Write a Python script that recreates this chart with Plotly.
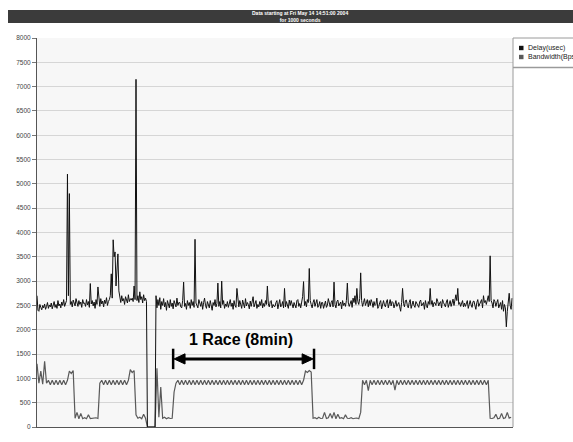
import plotly.graph_objects as go

# ---------------- data ----------------
title_lines = ["Data starting at Fri May 14 14:51:00 2004", "for 1000 seconds"]
series_names = ["Delay(usec)", "Bandwidth(Bps)"]
y_ticks = list(range(0, 8001, 500))

# delay: one sample every 2 s
delay_usec = [
    2700, 2400, 2380, 2520, 2460, 2410, 2500, 2450, 2530, 2420,
    2480, 2560, 2440, 2510, 2470, 2550, 2430, 2500, 2580, 2460,
    2520, 2440, 2600, 2490, 2530, 2450, 2570, 2500, 2620, 2480,
    2540, 2600, 5200, 2700, 4800, 2520, 2580, 2470, 2610, 2530,
    2490, 2640, 2550, 2480, 2600, 2520, 2570, 2460, 2620, 2540,
    2550, 2480, 2620, 2510, 2580, 2460, 2950, 2530, 2600, 2490,
    2570, 2440, 2620, 2520, 2880, 2560, 2480, 2640, 2530, 2590,
    2470, 2610, 2540, 2660, 2500, 2580, 2620, 2700, 3150, 2650,
    3850, 3500, 3600, 2900, 3300, 3560, 2800, 2650, 2560, 2700,
    2590, 2640, 2520, 2680, 2600, 2550, 2720, 2580, 2640, 2610,
    2650, 2580, 2900, 2620, 7150, 2600, 2700, 2560, 2780, 2620,
    2680, 2550, 2720, 2600, 2650, 2580, 0, 0, 0, 0,
    0, 0, 0, 0, 0, 2700, 2450, 2620, 2500, 2660,
    2420, 2580, 2500, 2640, 2470, 2560, 2400, 2600, 2510, 2450,
    2620, 2480, 2550, 2430, 2600, 2520, 2470, 2650, 2500, 2560,
    2560, 2470, 2450, 2600, 2980, 2480, 2540, 2420, 2600, 2500,
    2560, 2440, 2620, 2500, 2580, 2460, 3860, 2550, 2480, 2450,
    2620, 2530, 2480, 2580, 2420, 2560, 2650, 2500, 2440, 2580,
    2520, 2450, 2600, 2480, 2400, 2560, 2500, 2620, 2470, 2540,
    2960, 2480, 2580, 2450, 3000, 2520, 2600, 2440, 2530, 2480,
    2580, 2460, 2520, 2620, 2480, 2550, 2420, 2600, 2500, 2460,
    2850, 2560, 2470, 2600, 2530, 2440, 2610, 2500, 2450, 2640,
    2490, 2560, 2520, 2430, 2590, 2480, 2560, 2680, 2470, 2550,
    2600, 2440, 2520, 2470, 2580, 2500, 2620, 2450, 2540, 2480,
    2600, 2520, 2900, 2530, 2470, 2580, 2600, 2450, 2520, 2480,
    2480, 2560, 2600, 2430, 2520, 2620, 2470, 2500, 2580, 2450,
    2850, 2470, 2580, 2520, 2440, 2610, 2500, 2600, 2490, 2450,
    2560, 2520, 2450, 2600, 2620, 2480, 2540, 2450, 2580, 2680,
    2990, 2500, 2580, 2470, 2620, 2560, 3260, 2600, 2520, 2450,
    2560, 2620, 2480, 2530, 2620, 2460, 2500, 2580, 2440, 2560,
    2560, 2440, 2500, 2590, 2460, 2500, 2640, 2520, 2470, 2560,
    2600, 2470, 2980, 2520, 2450, 2580, 2610, 2490, 2540, 2570,
    2430, 2600, 2500, 2550, 2480, 2600, 2960, 2550, 2480, 2530,
    2600, 2460, 2650, 2560, 2700, 2520, 2850, 2580, 2520, 2640,
    3170, 2600, 2480, 2560, 2640, 2500, 2550, 2620, 2470, 2600,
    2500, 2620, 2560, 2460, 2580, 2500, 2520, 2650, 2440, 2480,
    2560, 2600, 2430, 2550, 2600, 2510, 2470, 2570, 2620, 2450,
    2540, 2620, 2490, 2580, 2560, 2450, 2520, 2600, 2480, 2540,
    2560, 2470, 2380, 2560, 2850, 2540, 2470, 2600, 2610, 2500,
    2450, 2560, 2620, 2440, 2520, 2590, 2500, 2460, 2580, 2530,
    2520, 2460, 2580, 2610, 2490, 2540, 2560, 2420, 2600, 2500,
    2450, 2580, 2520, 2850, 2520, 2600, 2470, 2560, 2550, 2500,
    2640, 2580, 2490, 2550, 2580, 2450, 2620, 2560, 2510, 2470,
    2570, 2620, 2460, 2550, 2600, 2480, 2560, 2630, 2500, 2580,
    2720, 2600, 2850, 2520, 2560, 2480, 2540, 2600, 2470, 2550,
    2480, 2570, 2600, 2440, 2520, 2600, 2510, 2460, 2580, 2590,
    2500, 2420, 2560, 2620, 2480, 2530, 2560, 2620, 2450, 2700,
    2560, 2600, 2520, 2640, 2700, 2580, 3520, 2600, 2550, 2450,
    2620, 2580, 2480, 2560, 2620, 2450, 2500, 2560, 2420, 2600,
    2380, 2520, 2450, 2060, 2380, 2600, 2750, 2500, 2420, 2650,
]
delay_time_s = [2 * i for i in range(len(delay_usec))]

# bandwidth: one sample every 4 s
bandwidth_bps = [
    1300, 900, 1150, 880, 1350, 900, 960, 870, 960, 870, 960, 870, 960, 870, 960, 870, 960, 1150, 1100, 1160, 180, 300, 170, 280, 170,
    190, 170, 250, 175, 180, 170, 190, 175, 900, 960, 870, 960, 870, 960, 870, 960, 870, 960, 870, 960, 870, 960, 870, 960, 1180,
    1120, 1160, 250, 180, 200, 170, 260, 180, 0, 0, 0, 0, 0, 1210, 200, 820, 180, 200, 170, 190, 175, 180, 720, 900, 960,
    870, 960, 870, 960, 870, 960, 870, 960, 870, 960, 870, 960, 870, 960, 870, 960, 870, 960, 870, 960, 870, 960, 870, 960, 870,
    960, 870, 960, 870, 960, 870, 960, 870, 960, 870, 960, 870, 960, 870, 960, 870, 960, 870, 960, 870, 960, 870, 960, 870, 960,
    870, 960, 870, 960, 870, 960, 870, 960, 870, 960, 870, 960, 870, 960, 870, 960, 1150, 1120, 1160, 1130, 180, 190, 170, 200, 175,
    180, 300, 175, 190, 280, 180, 300, 170, 260, 180, 190, 170, 250, 180, 175, 190, 170, 180, 185, 170, 300, 960, 870, 960, 750,
    960, 870, 960, 870, 960, 870, 960, 870, 960, 870, 960, 870, 960, 760, 960, 870, 960, 870, 960, 870, 960, 870, 960, 870, 960,
    870, 960, 870, 960, 870, 960, 870, 960, 870, 960, 870, 960, 870, 960, 870, 960, 870, 960, 870, 960, 870, 960, 870, 960, 870,
    960, 870, 960, 870, 960, 870, 960, 870, 960, 870, 960, 870, 960, 180, 175, 190, 260, 170, 180, 280, 175, 190, 300, 180, 200,
]
bandwidth_time_s = [4 * i for i in range(len(bandwidth_bps))]

race_label = "1 Race (8min)"
race_start_s = 286
race_end_s = 582
race_arrow_level = 1400

# ---------------- figure ----------------
fig = go.Figure()
fig.add_trace(go.Scatter(x=bandwidth_time_s, y=bandwidth_bps, mode="lines", name=series_names[1],
                         line=dict(color="#595959", width=1.2), showlegend=False))
fig.add_trace(go.Scatter(x=delay_time_s, y=delay_usec, mode="lines", name=series_names[0],
                         line=dict(color="#111111", width=1), showlegend=False))

shapes = []
annotations = []

# title bar
shapes.append(dict(type="rect", xref="paper", yref="paper",
                   x0=(8 - 37) / 476, x1=(575 - 37) / 476,
                   y0=(427 - 23) / 389, y1=(427 - 10) / 389,
                   fillcolor="#3b3b3b", line=dict(width=0), layer="above"))
annotations.append(dict(xref="paper", yref="paper", x=(300 - 37) / 476, y=(427 - 16.5) / 389,
                        text="<b>" + title_lines[0] + "</b><br><b>" + title_lines[1] + "</b>",
                        showarrow=False, font=dict(family="Liberation Sans, Arial", size=5, color="white"),
                        xanchor="center", yanchor="middle"))

# right border of plot and legend box
shapes.append(dict(type="line", xref="paper", yref="paper", x0=1, x1=1, y0=0, y1=1,
                   line=dict(color="#9a9a9a", width=1)))
shapes.append(dict(type="line", xref="paper", yref="paper", x0=1, x1=1.2, y0=1, y1=1,
                   line=dict(color="#9a9a9a", width=1)))
shapes.append(dict(type="line", xref="paper", yref="paper", x0=1, x1=1.2,
                   y0=(427 - 67.5) / 389, y1=(427 - 67.5) / 389,
                   line=dict(color="#9a9a9a", width=1.5)))
legend_colors = ["#111111", "#5a5a5a"]
legend_y = [48, 57]
for name, col, py in zip(series_names, legend_colors, legend_y):
    shapes.append(dict(type="rect", xref="paper", yref="paper",
                       x0=(519 - 37) / 476, x1=(523.5 - 37) / 476,
                       y0=(427 - py - 2.2) / 389, y1=(427 - py + 2.2) / 389,
                       fillcolor=col, line=dict(width=0)))
    annotations.append(dict(xref="paper", yref="paper", x=(525.5 - 37) / 476, y=(427 - py) / 389,
                            text=name, showarrow=False, xanchor="left", yanchor="middle",
                            font=dict(family="Liberation Sans, Arial", size=7, color="#222222")))

# race annotation: double-headed arrow with end bars
tri_len = 25
tri_half = 105
shapes.append(dict(type="line", xref="x", yref="y", x0=race_start_s + tri_len - 2, x1=race_end_s - tri_len + 2,
                   y0=race_arrow_level, y1=race_arrow_level, line=dict(color="black", width=3)))
shapes.append(dict(type="path", xref="x", yref="y",
                   path=f"M {race_start_s + 2} {race_arrow_level} L {race_start_s + tri_len} {race_arrow_level + tri_half} "
                        f"L {race_start_s + tri_len} {race_arrow_level - tri_half} Z",
                   fillcolor="black", line=dict(color="black", width=1)))
shapes.append(dict(type="path", xref="x", yref="y",
                   path=f"M {race_end_s - 2} {race_arrow_level} L {race_end_s - tri_len} {race_arrow_level + tri_half} "
                        f"L {race_end_s - tri_len} {race_arrow_level - tri_half} Z",
                   fillcolor="black", line=dict(color="black", width=1)))
for xs in (race_start_s, race_end_s):
    shapes.append(dict(type="line", xref="x", yref="y", x0=xs, x1=xs,
                       y0=race_arrow_level - 210, y1=race_arrow_level + 210,
                       line=dict(color="black", width=2.5)))
annotations.append(dict(xref="x", yref="y", x=(race_start_s + race_end_s) / 2 - 5, y=race_arrow_level + 390,
                        text="<b>" + race_label + "</b>", showarrow=False,
                        font=dict(family="Liberation Sans, Arial", size=16, color="black"),
                        xanchor="center", yanchor="middle"))

fig.update_layout(
    width=573, height=442,
    margin=dict(l=37, r=60, t=38, b=15, pad=0),
    paper_bgcolor="white",
    plot_bgcolor="#f7f7f7",
    shapes=shapes,
    annotations=annotations,
    showlegend=False,
    xaxis=dict(range=[0, 1000], showticklabels=False, showgrid=False, zeroline=False,
               showline=True, linecolor="#555555", linewidth=1, ticks=""),
    yaxis=dict(range=[0, 8000], tickvals=y_ticks, ticktext=[str(v) for v in y_ticks],
               showgrid=True, gridcolor="#d6d6d6", gridwidth=1, zeroline=False,
               showline=True, linecolor="#555555", linewidth=1,
               ticks="outside", ticklen=4, tickcolor="#777777",
               tickfont=dict(family="Liberation Sans, Arial", size=6.5, color="#444444")),
)

fig.write_html("out.html")
